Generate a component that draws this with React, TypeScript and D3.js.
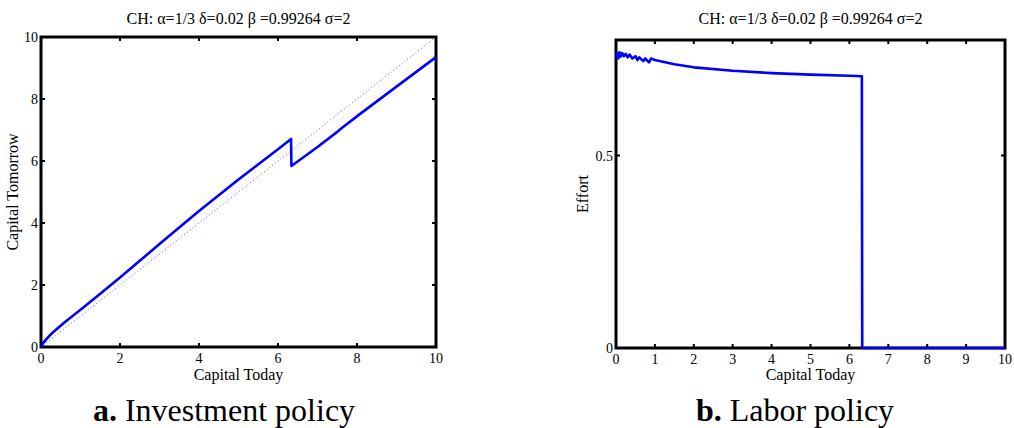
import React from "react";
import * as d3 from "d3";

// Investment policy: capital today -> capital tomorrow
const investK = [0, 0.03, 0.07, 0.12, 0.2, 0.3, 0.45, 0.6, 0.8, 1, 1.25, 1.5, 2, 2.5, 3, 4, 5, 6, 6.33, 6.34, 7, 7.5, 7.6, 8.08, 9, 10];
const investNext = [0, 0.08, 0.15, 0.23, 0.34, 0.47, 0.64, 0.8, 1.0, 1.2, 1.46, 1.72, 2.24, 2.78, 3.32, 4.39, 5.4, 6.38, 6.71, 5.84, 6.45, 6.94, 7.05, 7.52, 8.4, 9.35];
const diagonal = [0, 10];

// Labor policy: capital today -> effort
const effortK = [0, 0.03, 0.06, 0.09, 0.12, 0.16, 0.2, 0.25, 0.3, 0.35, 0.42, 0.5, 0.55, 0.6, 0.7, 0.75, 0.85, 0.9, 1, 1.5, 2, 3, 4, 5, 6, 6.32, 6.33, 10];
const effort = [0.755, 0.765, 0.752, 0.768, 0.757, 0.766, 0.758, 0.764, 0.755, 0.762, 0.752, 0.758, 0.748, 0.755, 0.745, 0.752, 0.742, 0.752, 0.748, 0.737, 0.729, 0.72, 0.714, 0.71, 0.707, 0.706, 0, 0];

const leftXTicks = [0, 2, 4, 6, 8, 10];
const leftYTicks = [0, 2, 4, 6, 8, 10];
const rightXTicks = [0, 1, 2, 3, 4, 5, 6, 7, 8, 9, 10];
const rightYTicks = [0, 0.5];

const title = "CH: α=1/3 δ=0.02 β =0.99264 σ=2";
const serif = "'Liberation Serif', 'DejaVu Serif', serif";

type PanelProps = {
  x0: number;
  x1: number;
  y0: number;
  y1: number;
  xDomain: [number, number];
  yDomain: [number, number];
  xTicks: number[];
  yTicks: number[];
  yLabel: string;
  yLabelX: number;
  captionBold: string;
  captionRest: string;
  captionX: number;
  children: (x: d3.ScaleLinear<number, number>, y: d3.ScaleLinear<number, number>) => React.ReactNode;
};

const Panel = (p: PanelProps) => {
  const x = d3.scaleLinear().domain(p.xDomain).range([p.x0, p.x1]);
  const y = d3.scaleLinear().domain(p.yDomain).range([p.y1, p.y0]);
  const cx = (p.x0 + p.x1) / 2;
  const cy = (p.y0 + p.y1) / 2;
  const tick = 4;

  return (
    <g>
      <text x={cx} y={24} textAnchor="middle" fontSize={16} fontFamily={serif}>
        {title}
      </text>

      {/* frame with inward ticks on all sides */}
      <rect x={p.x0} y={p.y0} width={p.x1 - p.x0} height={p.y1 - p.y0} fill="none" stroke="#000" strokeWidth={3} />
      {p.xTicks.map((t) => (
        <g key={"xt" + t}>
          <line x1={x(t)} x2={x(t)} y1={p.y1} y2={p.y1 - tick} stroke="#000" strokeWidth={2} />
          <line x1={x(t)} x2={x(t)} y1={p.y0} y2={p.y0 + tick} stroke="#000" strokeWidth={2} />
          <text x={x(t)} y={p.y1 + 16} textAnchor="middle" fontSize={14} fontFamily={serif}>
            {t}
          </text>
        </g>
      ))}
      {p.yTicks.map((t) => (
        <g key={"yt" + t}>
          <line x1={p.x0} x2={p.x0 + tick} y1={y(t)} y2={y(t)} stroke="#000" strokeWidth={2} />
          <line x1={p.x1} x2={p.x1 - tick} y1={y(t)} y2={y(t)} stroke="#000" strokeWidth={2} />
          <text x={p.x0 - 3} y={y(t) + 5} textAnchor="end" fontSize={14} fontFamily={serif}>
            {t}
          </text>
        </g>
      ))}

      <text x={cx} y={380} textAnchor="middle" fontSize={16} fontFamily={serif}>
        Capital Today
      </text>
      <text
        transform={`translate(${p.yLabelX},${cy}) rotate(-90)`}
        textAnchor="middle"
        fontSize={16}
        fontFamily={serif}
      >
        {p.yLabel}
      </text>

      {p.children(x, y)}

      <text x={p.captionX} y={421} textAnchor="middle" fontSize={32} fontFamily={serif}>
        <tspan fontWeight="bold">{p.captionBold}</tspan>
        <tspan> {p.captionRest}</tspan>
      </text>
    </g>
  );
};

export default function App() {
  return (
    <svg width={1014} height={428} style={{ position: "absolute", left: 0, top: 0, background: "#fff" }}>
      <Panel
        x0={41}
        x1={436}
        y0={37}
        y1={347}
        xDomain={[0, 10]}
        yDomain={[0, 10]}
        xTicks={leftXTicks}
        yTicks={leftYTicks}
        yLabel="Capital Tomorrow"
        yLabelX={18}
        captionBold="a."
        captionRest="Investment policy"
        captionX={224}
      >
        {(x, y) => {
          const line = d3
            .line<number>()
            .x((d) => x(d))
            .y((d, i) => y(investNext[i]));
          const diag = d3
            .line<number>()
            .x((d) => x(d))
            .y((d) => y(d));
          return (
            <g>
              <path d={diag(diagonal) || ""} fill="none" stroke="#5555ff" strokeWidth={1} strokeDasharray="1,2.5" />
              <path d={line(investK) || ""} fill="none" stroke="#0000ff" strokeWidth={2.6} strokeLinejoin="round" />
            </g>
          );
        }}
      </Panel>
      <Panel
        x0={616}
        x1={1005}
        y0={40}
        y1={348}
        xDomain={[0, 10]}
        yDomain={[0, 0.8]}
        xTicks={rightXTicks}
        yTicks={rightYTicks}
        yLabel="Effort"
        yLabelX={588}
        captionBold="b."
        captionRest="Labor policy"
        captionX={795}
      >
        {(x, y) => {
          const line = d3
            .line<number>()
            .x((d) => x(d))
            .y((d, i) => y(effort[i]));
          return <path d={line(effortK) || ""} fill="none" stroke="#0000ff" strokeWidth={2.6} strokeLinejoin="round" />;
        }}
      </Panel>
    </svg>
  );
}
